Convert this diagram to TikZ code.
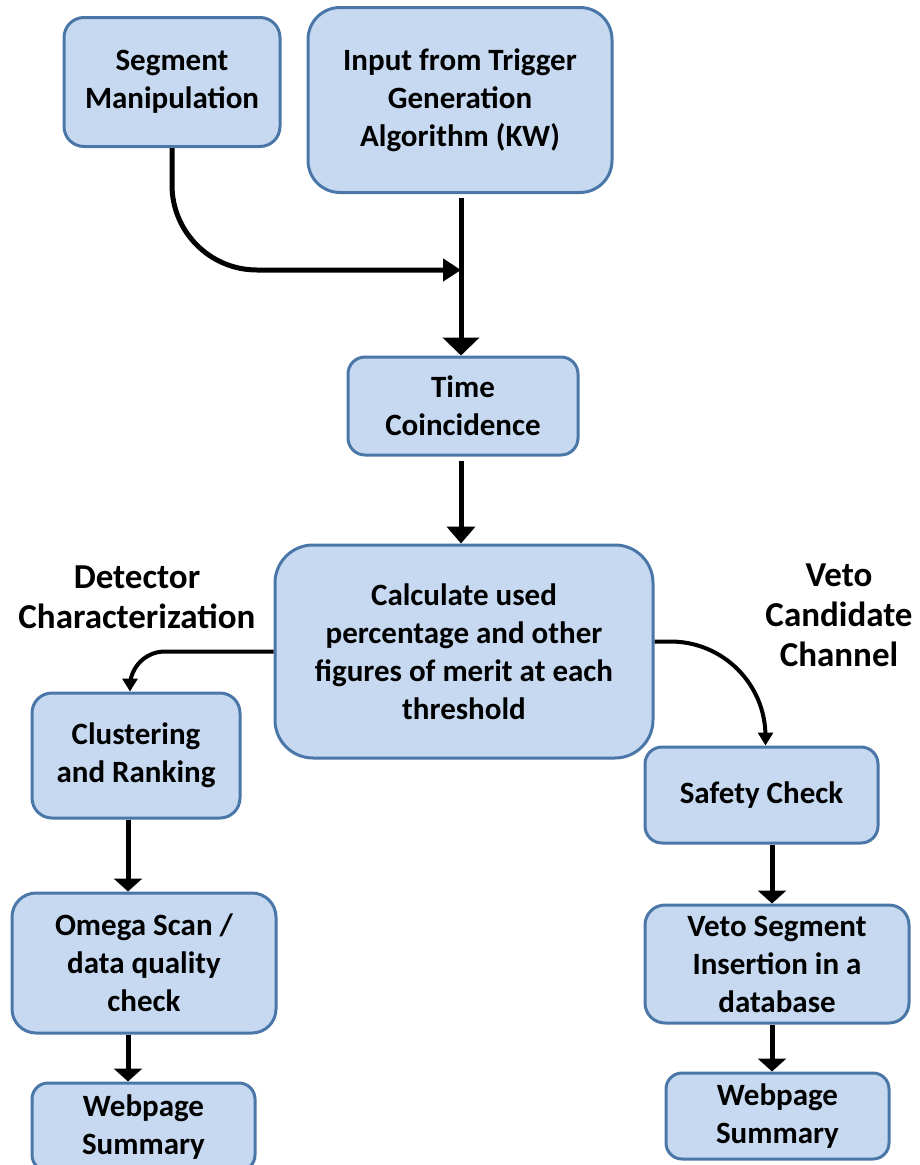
\documentclass[tikz,border=0pt]{standalone}
\usepackage{fontspec}
\setmainfont{Carlito}
\usetikzlibrary{arrows.meta}
\definecolor{boxfill}{HTML}{C6D9F1}
\definecolor{boxline}{HTML}{4A76A8}
\newcommand{\boxfont}{\bfseries\fontsize{31}{38}\selectfont}
\newcommand{\labfont}{\bfseries\fontsize{35}{40}\selectfont}

\begin{document}
\begin{tikzpicture}[x=1pt,y=-1pt,
  stage/.style={draw=boxline,fill=boxfill,line width=3pt,rounded corners=20pt,
    align=center,inner sep=0pt,font=\boxfont},
  flow/.style={line width=5pt,-{Triangle[width=28pt,length=17pt]}},
  curvearr/.style={line width=4pt,-{Triangle[width=15pt,length=13pt]}}]
\useasboundingbox (0,0) rectangle (919,1165);
% boxes
\node[stage,minimum width=216pt,minimum height=129pt] (seg) at (172,82) {Segment\\Manipulation};
\node[stage,minimum width=304pt,minimum height=185pt,rounded corners=32pt] (input) at (460,100) {Input from Trigger\\Generation\\Algorithm (KW)};
\node[stage,minimum width=230pt,minimum height=98pt,rounded corners=17pt] (time) at (463,406) {Time\\Coincidence};
\node[stage,minimum width=378pt,minimum height=213pt,rounded corners=38pt] (calc) at (464,651.5) {Calculate used\\percentage and other\\figures of merit at each\\threshold};
\node[stage,minimum width=208pt,minimum height=125pt] (clus) at (136,755.5) {Clustering\\and Ranking};
\node[stage,minimum width=233pt,minimum height=96pt,rounded corners=17pt] (safe) at (761.5,795) {Safety Check};
\node[stage,minimum width=264pt,minimum height=140pt,rounded corners=24pt] (omega) at (144,963) {Omega Scan /\\data quality\\check};
\node[stage,minimum width=264pt,minimum height=118pt] (vseg) at (777,964) {Veto Segment\\Insertion in a\\database};
\node[stage,minimum width=223pt,minimum height=88pt,rounded corners=16pt] (webl) at (143.5,1127) {Webpage\\Summary};
\node[stage,minimum width=223pt,minimum height=86pt,rounded corners=16pt] (webr) at (777.5,1116) {Webpage\\Summary};
% side labels
\node[align=center,font=\labfont] (detlab) at (137,597) {Detector\\Characterization};
\node[align=center,font=\labfont] (vetolab) at (839,615) {Veto\\Candidate\\Channel};
% connectors
\coordinate (join) at (461,270);
\draw[line width=5pt,rounded corners=85pt,-{Triangle[width=22pt,length=18pt]}] (seg.south) |- (join);
\draw[flow,shorten <=4pt,-{Triangle[width=36pt,length=18pt]}] (input.south -| join) -- (time.north -| join);
\draw[flow,shorten <=4pt] (time.south -| join) -- (calc.north -| join);
\draw[curvearr,rounded corners=35pt] (calc.west) -| ([xshift=-6pt]clus.north);
\draw[curvearr,rounded corners=95pt] ([yshift=10pt]calc.east) -| ([xshift=4pt]safe.north);
\draw[flow,-{Triangle[width=28pt,length=13pt]}] ([xshift=-8pt]clus.south) -- ([xshift=-16pt]omega.north);
\draw[flow,-{Triangle[width=28pt,length=13pt]}] ([xshift=-16pt]omega.south) -- ([xshift=-15.5pt]webl.north);
\draw[flow,-{Triangle[width=28pt,length=13pt]}] ([xshift=10.5pt]safe.south) -- ([xshift=-5pt]vseg.north);
\draw[flow,-{Triangle[width=28pt,length=13pt]}] ([xshift=-5pt]vseg.south) -- ([xshift=-5.5pt]webr.north);
\end{tikzpicture}
\end{document}
